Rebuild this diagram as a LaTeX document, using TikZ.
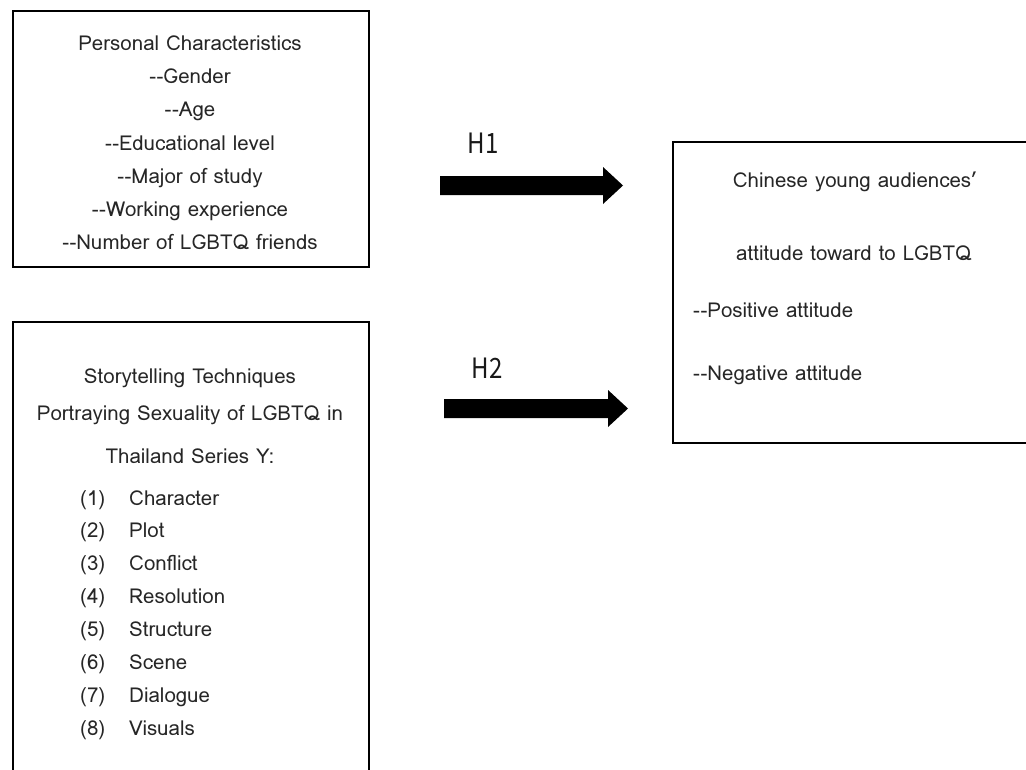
\documentclass[tikz,border=0pt]{standalone}
\usepackage{fontspec}
\setmainfont{Loma}
\newfontfamily\hfont{Noto Sans CJK SC}
\newcommand\dd{-\kern0.5pt-}
\begin{document}
\begin{tikzpicture}[x=1pt,y=-1pt,
  txt/.style={anchor=base,inner sep=0pt,font=\fontsize{20.5}{22}\selectfont,text=black!85},
  ltxt/.style={txt,anchor=base west},
  hlab/.style={anchor=base,inner sep=0pt,font=\hfont\fontsize{28}{30}\selectfont,xscale=0.86,transform shape,text=black!90},
  boxline/.style={draw=black,line width=2pt},
  bigarrow/.style={fill=black}]
\useasboundingbox (0,0) rectangle (1026,769);
\begin{scope}
\clip (0,0) rectangle (1026,769);
% boxes
\node[boxline,anchor=north west,minimum width=356pt,minimum height=256pt,inner sep=0pt] (b1) at (12,10) {};
\node[boxline,anchor=north west,minimum width=356pt,minimum height=470pt,inner sep=0pt] (b2) at (12,321) {};
\node[boxline,anchor=north west,minimum width=364pt,minimum height=301pt,inner sep=0pt] (b3) at (672,141) {};
\end{scope}
% box 1 text
\node[txt] (p0) at (190,50) {Personal Characteristics};
\node[txt] (p1) at (190,83) {\dd Gender};
\node[txt] (p2) at (190,116) {\dd Age};
\node[txt] (p3) at (190,150) {\dd Educational level};
\node[txt] (p4) at (190,183) {\dd Major of study};
\node[txt] (p5) at (190,216) {\dd Working experience};
\node[txt] (p6) at (190,249) {\dd Number of LGBTQ friends};
% box 2 text
\node[txt] (s0) at (190,383) {Storytelling Techniques};
\node[txt] (s1) at (190,420) {Portraying Sexuality of LGBTQ in};
\node[txt] (s2) at (190,463) {Thailand Series Y:};
\foreach \n/\t/\y in {1/Character/505,2/Plot/537,3/Conflict/570,4/Resolution/603,5/Structure/636,6/Scene/669,7/Dialogue/702,8/Visuals/735}{
  \node[ltxt] (n\n) at (80,\y) {(\n)};
  \node[ltxt] (i\n) at (129,\y) {\t};
}
% box 3 text
\node[txt] (c0) at (855,187) {Chinese young audiences’};
\node[txt] (c1) at (854,260) {attitude toward to LGBTQ};
\node[ltxt] (c2) at (693,317) {\dd Positive attitude};
\node[ltxt] (c3) at (693,380) {\dd Negative attitude};
% arrows
\node[hlab] (h1) at (483,153) {H1};
\node[hlab] (h2) at (487,378) {H2};
\fill[bigarrow] (440,176) -- (603,176) -- (603,167) -- (623,185.5) -- (603,204) -- (603,195) -- (440,195) -- cycle;
\fill[bigarrow] (444,399) -- (608,399) -- (608,390) -- (628,408.5) -- (608,427) -- (608,418) -- (444,418) -- cycle;
\end{tikzpicture}
\end{document}
